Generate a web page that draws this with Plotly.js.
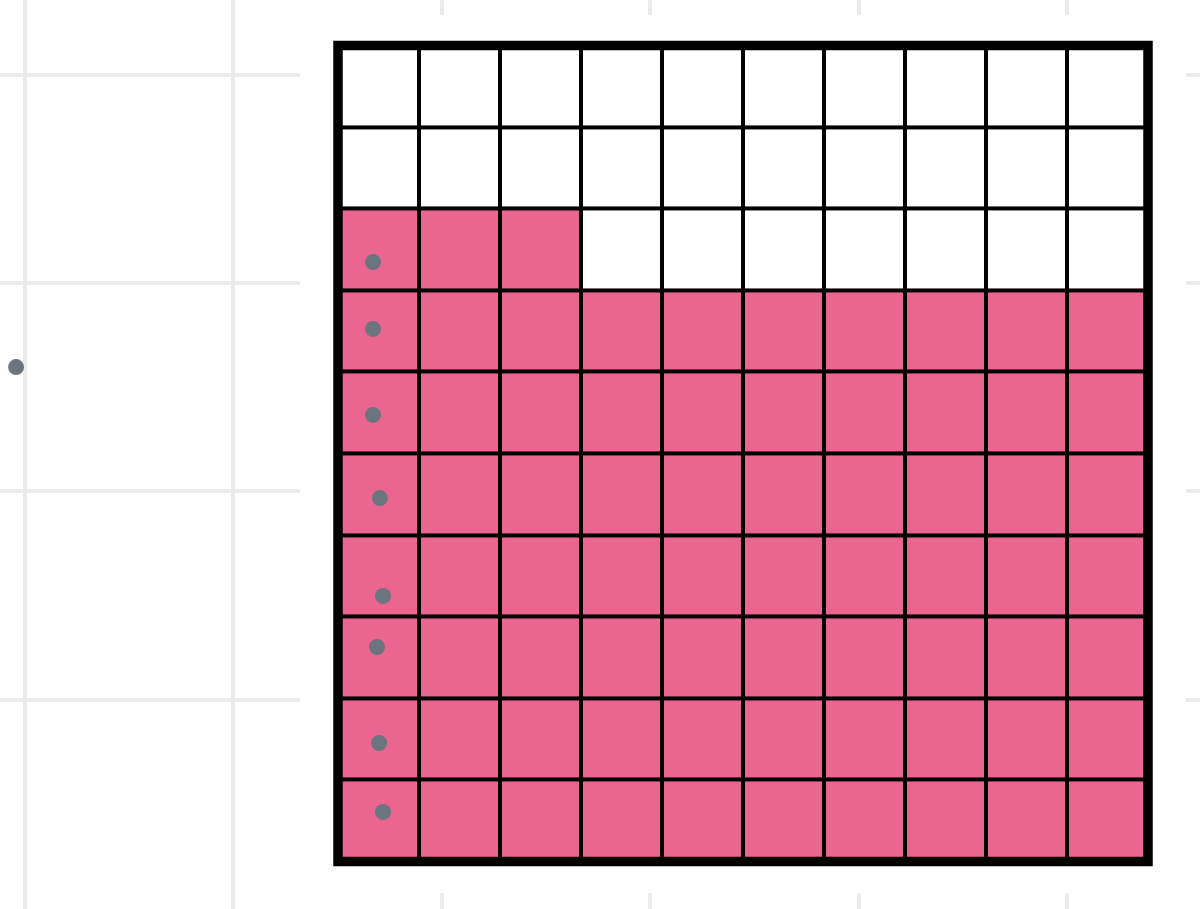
<!DOCTYPE html>
<html>
<head>
<meta charset="utf-8">
<script src="https://cdn.plot.ly/plotly-3.0.1.min.js"></script>
<style>
  html, body { margin: 0; padding: 0; background: #ffffff; }
  #chart { width: 1200px; height: 909px; }
</style>
</head>
<body>
<div id="chart"></div>
<script>
// ---- data ----
const categories = ['Filled', 'Empty'];
const counts = [73, 27];          // 73 of 100 squares filled
const gridRows = 10;
const gridCols = 10;

// scattered grey dots (background-axis units)
const dotX = [-0.043, 1.670, 1.670, 1.670, 1.703, 1.718, 1.689, 1.699, 1.718];
const dotY = [2.597, 3.101, 2.780, 2.367, 1.968, 1.498, 1.253, 0.792, 0.461];

// ---- build waffle matrix (fill bottom-up, left to right) ----
const z = [];
let k = 0;
for (let r = 0; r < gridRows; r++) {
  const row = [];
  for (let c = 0; c < gridCols; c++) {
    row.push(k < counts[0] ? 1 : 0);
    k++;
  }
  z.push(row);
}

// ---- layout geometry (background axis units) ----
const gx0 = 1.5019, cellW = 0.38868;   // waffle left edge, cell width
const gy0 = 0.2237, cellH = 0.39174;   // waffle bottom edge, cell height
const gx1 = gx0 + gridCols * cellW;
const gy1 = gy0 + gridRows * cellH;

const pink = '#EA6590';

const traces = [
  {
    type: 'heatmap',
    z: z,
    x0: gx0 + cellW / 2, dx: cellW,
    y0: gy0 + cellH / 2, dy: cellH,
    zmin: 0, zmax: 1,
    colorscale: [[0, '#FFFFFF'], [0.5, '#FFFFFF'], [0.5, pink], [1, pink]],
    showscale: false,
    xgap: 4, ygap: 4,
    hoverinfo: 'skip'
  },
  {
    type: 'scatter',
    mode: 'markers',
    x: dotX, y: dotY,
    marker: { size: 16, color: '#6C757D' },
    cliponaxis: false,
    hoverinfo: 'skip'
  }
];

const layout = {
  width: 1200, height: 909,
  margin: { l: 0, r: 0, t: 0, b: 0 },
  paper_bgcolor: '#FFFFFF',
  plot_bgcolor: '#FFFFFF',
  showlegend: false,
  xaxis: {
    range: [-0.12, 5.6382],
    tick0: 0, dtick: 1,
    showgrid: true, gridcolor: '#EBEBEB', gridwidth: 4,
    zeroline: false, showticklabels: false, ticks: '', showline: false,
    fixedrange: true
  },
  yaxis: {
    range: [-0.0048, 4.3591],
    tick0: 0, dtick: 1,
    showgrid: true, gridcolor: '#EBEBEB', gridwidth: 4,
    zeroline: false, showticklabels: false, ticks: '', showline: false,
    fixedrange: true
  },
  shapes: [
    // white panel masking the background grid
    { type: 'rect', xref: 'x', yref: 'y', layer: 'between',
      x0: 1.3196, x1: 5.5710, y0: 0.0720, y1: 4.2871,
      fillcolor: '#FFFFFF', line: { width: 0 } },
    // black backing that shows through the cell gaps
    { type: 'rect', xref: 'x', yref: 'y', layer: 'between',
      x0: gx0, x1: gx1, y0: gy0, y1: gy1,
      fillcolor: '#000000', line: { width: 0 } },
    // thick outer border
    { type: 'rect', xref: 'x', yref: 'y', layer: 'above',
      x0: gx0, x1: gx1, y0: gy0, y1: gy1,
      fillcolor: 'rgba(0,0,0,0)', line: { color: '#000000', width: 9.5 } }
  ]
};

Plotly.newPlot('chart', traces, layout, { staticPlot: true, displayModeBar: false });
</script>
</body>
</html>
